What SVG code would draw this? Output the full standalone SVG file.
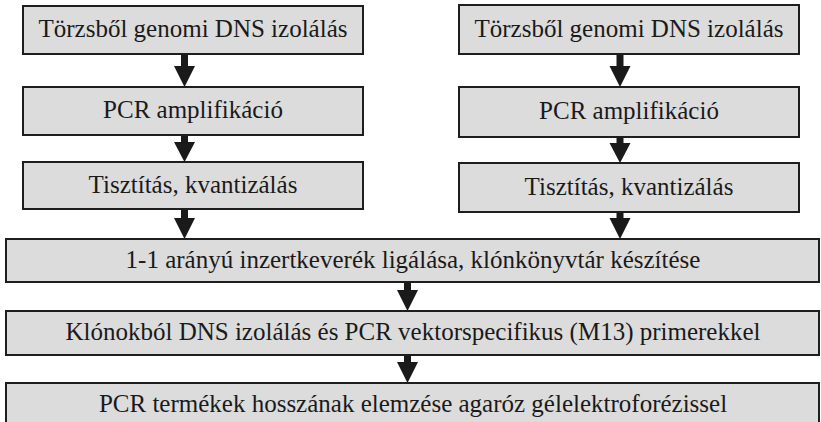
<svg xmlns="http://www.w3.org/2000/svg" width="821" height="422" viewBox="0 0 821 422">
<style>
.box{fill:#dcdcdc;stroke:#1e1e1e;stroke-width:2}
.t{font-family:"Liberation Serif","Times New Roman","DejaVu Serif",serif;font-size:25px;fill:#1a1a1a;text-anchor:middle}
.arr{fill:#1a1a1a}
</style>
<rect width="821" height="422" fill="#ffffff"/>
<g id="L1"><rect class="box" x="23" y="6" width="340" height="48"/><text class="t" x="193" y="37">Törzsből genomi DNS izolálás</text></g>
<g id="L2"><rect class="box" x="23" y="87" width="340" height="48"/><text class="t" x="193" y="118">PCR amplifikáció</text></g>
<g id="L3"><rect class="box" x="23" y="162" width="340" height="47"/><text class="t" x="193" y="193">Tisztítás, kvantizálás</text></g>
<g id="R1"><rect class="box" x="459" y="5" width="340" height="49"/><text class="t" x="629" y="37">Törzsből genomi DNS izolálás</text></g>
<g id="R2"><rect class="box" x="459" y="87" width="340" height="50"/><text class="t" x="629" y="119">PCR amplifikáció</text></g>
<g id="R3"><rect class="box" x="459" y="163" width="340" height="49"/><text class="t" x="629" y="195">Tisztítás, kvantizálás</text></g>
<g id="B1"><rect class="box" x="6" y="239" width="813" height="43"/><text class="t" x="413" y="268">1-1 arányú inzertkeverék ligálása, klónkönyvtár készítése</text></g>
<g id="B2"><rect class="box" x="6" y="311" width="813" height="44"/><text class="t" x="413" y="340">Klónokból DNS izolálás és PCR vektorspecifikus (M13) primerekkel</text></g>
<g id="B3"><rect class="box" x="6" y="383" width="813" height="44"/><text class="t" x="413" y="412">PCR termékek hosszának elemzése agaróz gélelektroforézissel</text></g>
<g id="connectors" class="arr">
<polygon points="181,55 188,55 188,66 195,66 184.5,87 174,66 181,66"/>
<polygon points="181,136 188,136 188,142 195,142 184.5,162 174,142 181,142"/>
<polygon points="181,210 188,210 188,218 195,218 184.5,239 174,218 181,218"/>
<polygon points="616.5,55 623.5,55 623.5,66 630.5,66 620,87 609.5,66 616.5,66"/>
<polygon points="616.5,138 623.5,138 623.5,143 630.5,143 620,163 609.5,143 616.5,143"/>
<polygon points="616.5,213 623.5,213 623.5,218 630.5,218 620,239 609.5,218 616.5,218"/>
<polygon points="404,283 411,283 411,290 418,290 407.5,311 397,290 404,290"/>
<polygon points="404,356 411,356 411,362 418,362 407.5,383 397,362 404,362"/>
</g>
</svg>
